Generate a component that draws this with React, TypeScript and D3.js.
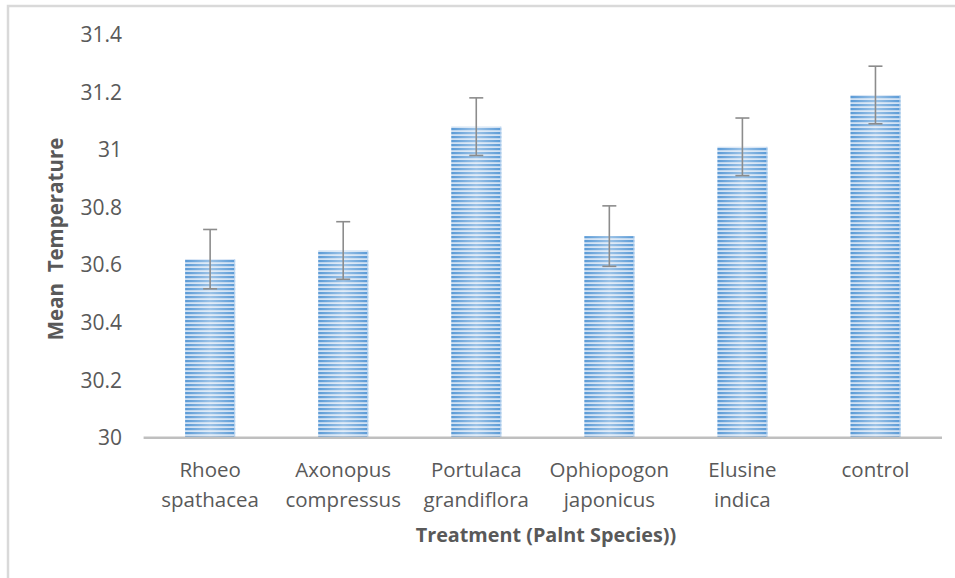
import React from "react";
import * as d3 from "d3";

const categories: string[][] = [
  ["Rhoeo", "spathacea"],
  ["Axonopus", "compressus"],
  ["Portulaca", "grandiflora"],
  ["Ophiopogon", "japonicus"],
  ["Elusine", "indica"],
  ["control"],
];
const means: number[] = [30.62, 30.65, 31.08, 30.7, 31.01, 31.19];
const errors: number[] = [0.103, 0.1, 0.1, 0.105, 0.1, 0.1];
const yTicks: number[] = [30, 30.2, 30.4, 30.6, 30.8, 31, 31.2, 31.4];
const xTitle = "Treatment (Palnt Species))";
const yTitle = "Mean  Temperature";

const W = 955;
const H = 578;
const FONT = "'Open Sans', 'Noto Sans', sans-serif";

export default function App() {
  const x = d3
    .scaleBand<number>()
    .domain(categories.map((_, i) => i))
    .range([143.6, 942])
    .paddingInner(0.624)
    .paddingOuter(0.312);
  const y = d3.scaleLinear().domain([30, 31.4]).range([437.7, 34.5]);
  const bw = x.bandwidth();

  return (
    <div style={{ position: "absolute", left: 0, top: 0 }}>
      <svg width={W} height={H} style={{ display: "block" }}>
        <defs>
          <pattern id="stripes" patternUnits="userSpaceOnUse" width={8} height={4}>
            <rect x={0} y={0} width={8} height={4} fill="#cfe0f3" />
            <rect x={0} y={0} width={8} height={2.2} fill="#5a9ad6" />
          </pattern>
          <linearGradient id="shine" x1="0" x2="1" y1="0" y2="0">
            <stop offset="0" stopColor="#ffffff" stopOpacity={0} />
            <stop offset="0.5" stopColor="#ffffff" stopOpacity={0.4} />
            <stop offset="1" stopColor="#ffffff" stopOpacity={0} />
          </linearGradient>
        </defs>
        <rect x={0} y={0} width={W} height={H} fill="#ffffff" />
        <rect x={8} y={6} width={W + 20} height={H + 20} fill="none" stroke="#d9d9d9" strokeWidth={2.5} />

        {yTicks.map((t) => (
          <text
            key={t}
            x={122}
            y={y(t)}
            dy="0.36em"
            textAnchor="end"
            fontFamily={FONT}
            fontSize={21}
            fill="#595959"
          >
            {d3.format("~g")(t)}
          </text>
        ))}

        {means.map((m, i) => {
          const bx = x(i)!;
          const top = y(m);
          const h = y(30) - top;
          return (
            <g key={i}>
              <rect x={bx} y={top} width={bw} height={h} fill="url(#stripes)" />
              <rect x={bx} y={top} width={bw} height={h} fill="url(#shine)" />
              <line x1={bx + bw - 0.5} x2={bx + bw - 0.5} y1={top} y2={y(30)} stroke="#bcd6f0" strokeWidth={1} />
            </g>
          );
        })}

        <line x1={143.6} x2={942} y1={y(30)} y2={y(30)} stroke="#bfbfbf" strokeWidth={2.5} />

        {means.map((m, i) => {
          const cx = x(i)! + bw / 2;
          const e = errors[i];
          return (
            <g key={"e" + i} stroke="#8c8c8c" strokeWidth={1.6}>
              <line x1={cx} x2={cx} y1={y(m + e)} y2={y(m - e)} />
              <line x1={cx - 7} x2={cx + 7} y1={y(m + e)} y2={y(m + e)} />
              <line x1={cx - 7} x2={cx + 7} y1={y(m - e)} y2={y(m - e)} />
            </g>
          );
        })}

        {categories.map((lines, i) => {
          const cx = x(i)! + bw / 2;
          return (
            <text key={"c" + i} textAnchor="middle" fontFamily={FONT} fontSize={20.5} fill="#595959">
              {lines.map((l, j) => (
                <tspan key={j} x={cx} y={477 + j * 30}>
                  {l}
                </tspan>
              ))}
            </text>
          );
        })}

        <text
          x={546}
          y={542}
          textAnchor="middle"
          fontFamily={FONT}
          fontSize={19.8}
          fontWeight="bold"
          fill="#595959"
        >
          {xTitle}
        </text>
        <text
          transform={`translate(63,239) rotate(-90)`}
          textAnchor="middle"
          fontFamily={FONT}
          fontSize={20.5}
          fontWeight="bold"
          fill="#595959"
          style={{ whiteSpace: "pre" }}
        >
          {yTitle}
        </text>
      </svg>
    </div>
  );
}
